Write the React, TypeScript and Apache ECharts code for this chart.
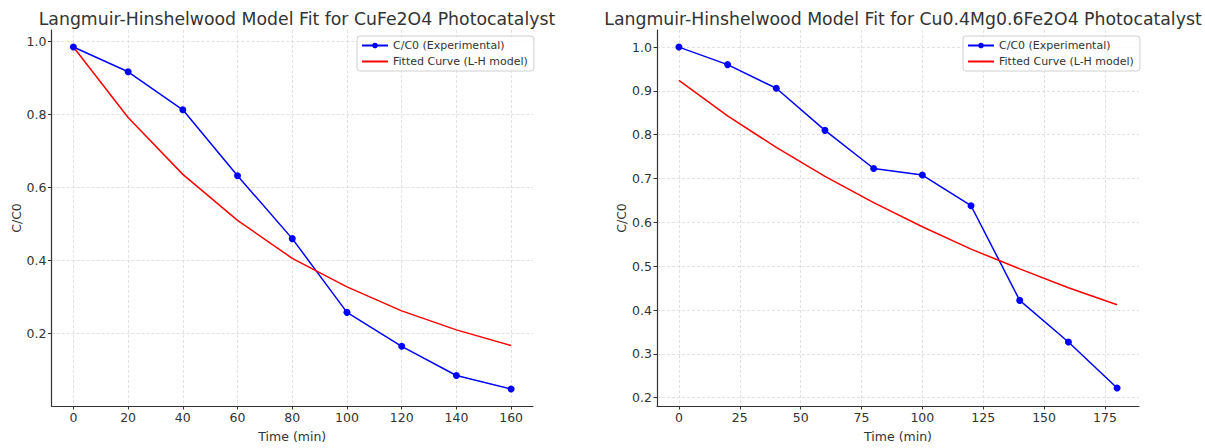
import React, { useEffect, useRef } from "react";
import * as echarts from "echarts";

const timeA = [0, 20, 40, 60, 80, 100, 120, 140, 160];
const expA = [0.985, 0.917, 0.813, 0.632, 0.46, 0.258, 0.165, 0.085, 0.048];
const fitA = [0.985, 0.792, 0.636, 0.51, 0.406, 0.328, 0.262, 0.21, 0.167];

const timeB = [0, 20, 40, 60, 80, 100, 120, 140, 160, 180];
const expB = [1.0, 0.96, 0.906, 0.81, 0.723, 0.708, 0.638, 0.422, 0.327, 0.222];
const fitB = [0.924, 0.843, 0.771, 0.705, 0.645, 0.59, 0.539, 0.494, 0.451, 0.412];

const xTicksA = [0, 20, 40, 60, 80, 100, 120, 140, 160];
const yTicksA = [0.2, 0.4, 0.6, 0.8, 1.0];
const xTicksB = [0, 25, 50, 75, 100, 125, 150, 175];
const yTicksB = [0.2, 0.3, 0.4, 0.5, 0.6, 0.7, 0.8, 0.9, 1.0];

const titleA = "Langmuir-Hinshelwood Model Fit for CuFe2O4 Photocatalyst";
const titleB = "Langmuir-Hinshelwood Model Fit for Cu0.4Mg0.6Fe2O4 Photocatalyst";
const nameExp = "C/C0 (Experimental)";
const nameFit = "Fitted Curve (L-H model)";

const FONT = "DejaVu Sans";

function xAxisCfg(gridIndex: number, min: number, max: number, ticks: number[]) {
  return {
    type: "value",
    gridIndex,
    min,
    max,
    name: "Time (min)",
    nameLocation: "middle",
    nameGap: 24,
    nameTextStyle: { fontFamily: FONT, fontSize: 12.5, color: "#333" },
    axisLine: { show: true, onZero: false, lineStyle: { color: "#333", width: 1.2 } },
    axisTick: { show: true, length: 3.5, customValues: ticks, lineStyle: { color: "#333" } },
    axisLabel: {
      customValues: ticks,
      fontFamily: FONT,
      fontSize: 12.5,
      color: "#333",
      margin: 5,
    },
    splitLine: {
      show: true,
      customValues: ticks,
      lineStyle: { color: "#d9d9d9", type: [3, 2], width: 0.8 },
    },
  };
}

function yAxisCfg(gridIndex: number, min: number, max: number, ticks: number[]) {
  return {
    type: "value",
    gridIndex,
    min,
    max,
    name: "C/C0",
    nameLocation: "middle",
    nameGap: 29,
    nameTextStyle: { fontFamily: FONT, fontSize: 12.5, color: "#333" },
    axisLine: { show: true, onZero: false, lineStyle: { color: "#333", width: 1.2 } },
    axisTick: { show: true, length: 3.5, customValues: ticks, lineStyle: { color: "#333" } },
    axisLabel: {
      customValues: ticks,
      fontFamily: FONT,
      fontSize: 12.5,
      color: "#333",
      margin: 5,
      formatter: (v: number) => v.toFixed(1),
    },
    splitLine: {
      show: true,
      customValues: ticks,
      lineStyle: { color: "#d9d9d9", type: [3, 2], width: 0.8 },
    },
  };
}

function legendCfg(left: number) {
  return {
    left,
    top: 36,
    orient: "vertical",
    data: [nameExp, { name: nameFit, itemStyle: { opacity: 0 } }],
    itemWidth: 26,
    itemHeight: 7,
    itemGap: 5,
    padding: [4, 6, 4, 4],
    backgroundColor: "rgba(255,255,255,0.8)",
    borderColor: "#d0d0d0",
    borderWidth: 1,
    borderRadius: 3,
    selectedMode: false,
    textStyle: { fontFamily: FONT, fontSize: 11, color: "#333" },
  };
}

export default function App() {
  const ref = useRef<HTMLDivElement>(null);
  useEffect(() => {
    if (!ref.current) return;
    const chart = echarts.init(ref.current, undefined, { renderer: "svg" });
    const option: any = {
      animation: false,
      backgroundColor: "#ffffff",
      textStyle: { fontFamily: FONT },
      title: [
        {
          text: titleA,
          left: 292,
          top: 5,
          textAlign: "center",
          textStyle: { fontFamily: FONT, fontSize: 17.3, fontWeight: "normal", color: "#333" },
        },
        {
          text: titleB,
          left: 898,
          top: 5,
          textAlign: "center",
          textStyle: { fontFamily: FONT, fontSize: 17.3, fontWeight: "normal", color: "#333" },
        },
      ],
      legend: [legendCfg(357), legendCfg(963)],
      grid: [
        { left: 51.5, right: 1205 - 533, top: 30, bottom: 448 - 408 },
        { left: 657, right: 1205 - 1139, top: 30, bottom: 448 - 410.5 },
      ],
      xAxis: [xAxisCfg(0, -8, 168, xTicksA), xAxisCfg(1, -9, 189, xTicksB)],
      yAxis: [yAxisCfg(0, 0.0015, 1.0315, yTicksA), yAxisCfg(1, 0.181, 1.039, yTicksB)],
      series: [
        {
          name: nameExp,
          type: "line",
          xAxisIndex: 0,
          yAxisIndex: 0,
          data: timeA.map((t, i) => [t, expA[i]]),
          symbol: "circle",
          symbolSize: 7,
          lineStyle: { color: "#0000ff", width: 1.5 },
          itemStyle: { color: "#0000ff" },
        },
        {
          name: nameFit,
          type: "line",
          xAxisIndex: 0,
          yAxisIndex: 0,
          data: timeA.map((t, i) => [t, fitA[i]]),
          symbol: "none",
          lineStyle: { color: "#ff0000", width: 1.5 },
          itemStyle: { color: "#ff0000" },
        },
        {
          name: nameExp,
          type: "line",
          xAxisIndex: 1,
          yAxisIndex: 1,
          data: timeB.map((t, i) => [t, expB[i]]),
          symbol: "circle",
          symbolSize: 7,
          lineStyle: { color: "#0000ff", width: 1.5 },
          itemStyle: { color: "#0000ff" },
        },
        {
          name: nameFit,
          type: "line",
          xAxisIndex: 1,
          yAxisIndex: 1,
          data: timeB.map((t, i) => [t, fitB[i]]),
          symbol: "none",
          lineStyle: { color: "#ff0000", width: 1.5 },
          itemStyle: { color: "#ff0000" },
        },
      ],
    };
    chart.setOption(option);
    return () => chart.dispose();
  }, []);
  return (
    <div
      ref={ref}
      style={{ position: "absolute", left: 0, top: 0, width: 1205, height: 448 }}
    />
  );
}
